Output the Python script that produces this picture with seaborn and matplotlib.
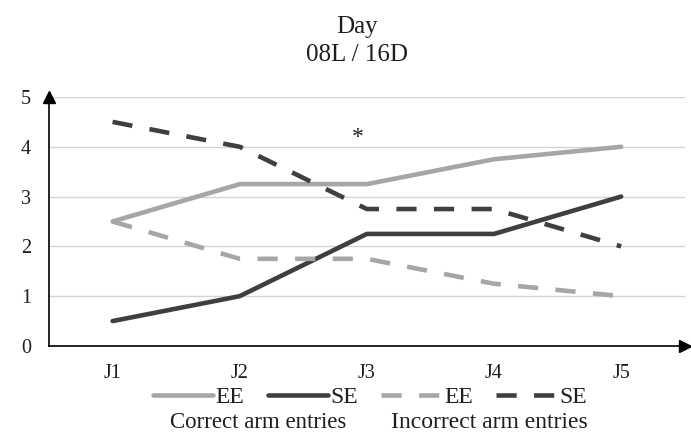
import numpy as np
import pandas as pd
import matplotlib
matplotlib.use("Agg")
import matplotlib.pyplot as plt
from matplotlib.lines import Line2D
import seaborn as sns

sessions = ["J1", "J2", "J3", "J4", "J5"]
correct_ee = [2.5, 3.25, 3.25, 3.75, 4.0]
correct_se = [0.5, 1.0, 2.25, 2.25, 3.0]
incorrect_ee = [2.5, 1.75, 1.75, 1.25, 1.0]
incorrect_se = [4.5, 4.0, 2.75, 2.75, 2.0]
y_ticks = [0, 1, 2, 3, 4, 5]

LIGHT = "#a6a6a6"
DARK = "#3f3f3f"
TEXT = "#1e1e1e"
DASH = (0, (4.4, 3.8))

sns.set_theme(style="white")
plt.rcParams["font.family"] = ["Liberation Serif", "DejaVu Serif"]

fig = plt.figure(figsize=(6.91, 4.33), dpi=100)
ax = fig.add_axes([0.0709, 0.201, 0.920, 0.575])

x = np.arange(len(sessions))
series = [
    (correct_ee, LIGHT, "-"),
    (correct_se, DARK, "-"),
    (incorrect_ee, LIGHT, DASH),
    (incorrect_se, DARK, DASH),
]
for vals, col, ls in series:
    df = pd.DataFrame({"x": x, "y": vals})
    sns.lineplot(data=df, x="x", y="y", ax=ax, color=col, linewidth=3.3,
                 linestyle=ls, legend=False)

ax.set_xlim(-0.5, 4.5)
ax.set_ylim(0, 5)
ax.set_xticks(x)
ax.set_xticklabels(sessions)
ax.set_yticks(y_ticks)
ax.set_yticklabels([str(v) for v in y_ticks])
ax.set_xlabel("")
ax.set_ylabel("")
ax.tick_params(axis="both", length=0, labelsize=14.5, colors=TEXT)
ax.tick_params(axis="x", pad=13)
ax.tick_params(axis="y", pad=13)
ax.yaxis.grid(True, color="#d4d4d4", linewidth=1)
ax.xaxis.grid(False)
for s in ["top", "right"]:
    ax.spines[s].set_visible(False)
for s in ["left", "bottom"]:
    ax.spines[s].set_color("black")
    ax.spines[s].set_linewidth(1.2)
ax.set_axisbelow(True)

# arrow heads on the axes
ax.plot(0, 1, marker="^", color="black", markersize=9, transform=ax.transAxes, clip_on=False)
ax.plot(1, 0, marker=">", color="black", markersize=9, transform=ax.transAxes, clip_on=False)

# significance mark
ax.text(1.93, 4.18, "*", ha="center", va="center", fontsize=17, color=TEXT)

fig.text(0.517, 0.923, "Day", ha="center", va="baseline", fontsize=18, color=TEXT)
fig.text(0.517, 0.858, "08L / 16D", ha="center", va="baseline", fontsize=18, color=TEXT)

handles = [
    Line2D([], [], color=LIGHT, lw=3.3, ls="-"),
    Line2D([], [], color=DARK, lw=3.3, ls="-"),
    Line2D([], [], color=LIGHT, lw=3.3, ls=DASH),
    Line2D([], [], color=DARK, lw=3.3, ls=DASH),
]
fig.legend(handles, ["EE", "SE", "EE", "SE"], ncol=4, loc="center",
           bbox_to_anchor=(0.535, 0.083), frameon=False, fontsize=17,
           handlelength=2.55, handletextpad=0.1, columnspacing=1.0,
           labelcolor=TEXT, borderpad=0, borderaxespad=0)
fig.text(0.374, 0.025, "Correct arm entries", ha="center", va="center",
         fontsize=16.5, color=TEXT)
fig.text(0.708, 0.025, "Incorrect arm entries", ha="center", va="center",
         fontsize=17, color=TEXT)

fig.savefig("out.png", dpi=100)
